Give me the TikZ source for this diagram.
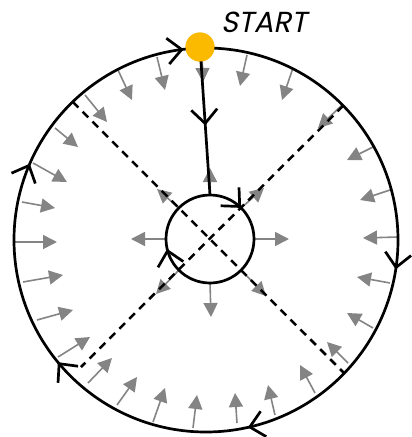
\documentclass[tikz,border=0pt]{standalone}
\usepackage{fontspec}
\newfontfamily\startfont[FakeSlant=0.2]{Poppins}
\usetikzlibrary{arrows.meta,decorations.markings}
\definecolor{dotorange}{HTML}{FBB900}
\definecolor{arrgray}{HTML}{848484}
\tikzset{
  myBarb/.tip={Straight Barb[length=14pt,width=26pt]},
  flow/.style={draw=black, line width=2.7pt},
  garrow/.style={draw=arrgray, line width=1.6pt, -{Triangle[length=14pt,width=14pt]}},
  divider/.style={draw=black, line width=2.5pt, dash pattern=on 8pt off 6pt},
  startdot/.style={circle, fill=dotorange, minimum size=29pt, inner sep=0pt},
  ring/.style={circle, inner sep=0pt, outer sep=0pt},
  label/.style={font=\startfont\fontsize{29}{32}\selectfont}
}
\begin{document}
\begin{tikzpicture}[x=1pt,y=-1pt]
\useasboundingbox (0,0) rectangle (412,437);
% named points
\node[ring, minimum size=384pt] (outer) at (206,240) {};
\node[ring, minimum size=88pt] (inner) at (210,239) {};
\coordinate (dTL) at (72.7,101.8);
\coordinate (dBR) at (344.2,373.2);
\coordinate (dTR) at (343.2,105.7);
\coordinate (dBL) at (81,367);
% gray arrows from the outer circle
\foreach \xa/\ya/\xb/\yb in {
 202/53/203/82, 247/55/240/86, 293/68/282/100, 342/105/318/128,
 373/147/347/160, 390/190/360/200, 398/237/363/238, 390/283/357/277,
 373/328/347/313, 348/363/327/342, 315/393/300/365, 275/415/268/385,
 237/423/235/393, 193/428/197/395, 153/422/165/388, 117/405/137/377,
 88/383/112/358, 58/357/90/337, 37/320/73/310, 23/282/63/275,
 15/242/57/242, 22/202/55/208, 33/163/67/182, 55/128/78/147,
 85/95/107/122, 118/70/132/100, 157/57/165/90}
  \draw[garrow] (\xa,\ya) -- (\xb,\yb);
% gray arrows from the inner circle
\foreach \xa/\ya/\xb/\yb in {
 210/195/210/168, 241/208/264/188, 254/239/289/239, 241/270/266/296,
 210/283/211/317, 179/270/156/294, 166/239/131/239, 179/208/157/189}
  \draw[garrow] (\xa,\ya) -- (\xb,\yb);
% dashed dividers
\draw[divider] (dTL) -- (dBR);
\draw[divider] (dTR) -- (dBL);
% start dot
\node[startdot] (start) at (200,47) {};
% outer circle, clockwise
\draw[flow, decoration={markings,
   mark=at position 0.280 with {\arrow{myBarb}},
   mark=at position 0.4706 with {\arrow{myBarb}},
   mark=at position 0.6458 with {\arrow{myBarb}},
   mark=at position 0.8206 with {\arrow{myBarb}},
   mark=at position 0.987 with {\arrow{myBarb}}}, postaction={decorate}]
  (outer.center) ++(-92:192) arc[start angle=-92, end angle=268, radius=192];
% path from start to inner circle
\draw[flow, decoration={markings, mark=at position 0.53 with {\arrow{myBarb}}}, postaction={decorate}]
  (start.center) -- (inner.north);
% inner circle, clockwise
\draw[flow, decoration={markings,
   mark=at position 0.125 with {\arrow{myBarb}},
   mark=at position 0.714 with {\arrow{myBarb}}}, postaction={decorate}]
  (inner.north) arc[start angle=-90, end angle=270, radius=44];
\node[startdot] at (start) {};
\node[label] (title) at (264,22) {START};
\end{tikzpicture}
\end{document}
